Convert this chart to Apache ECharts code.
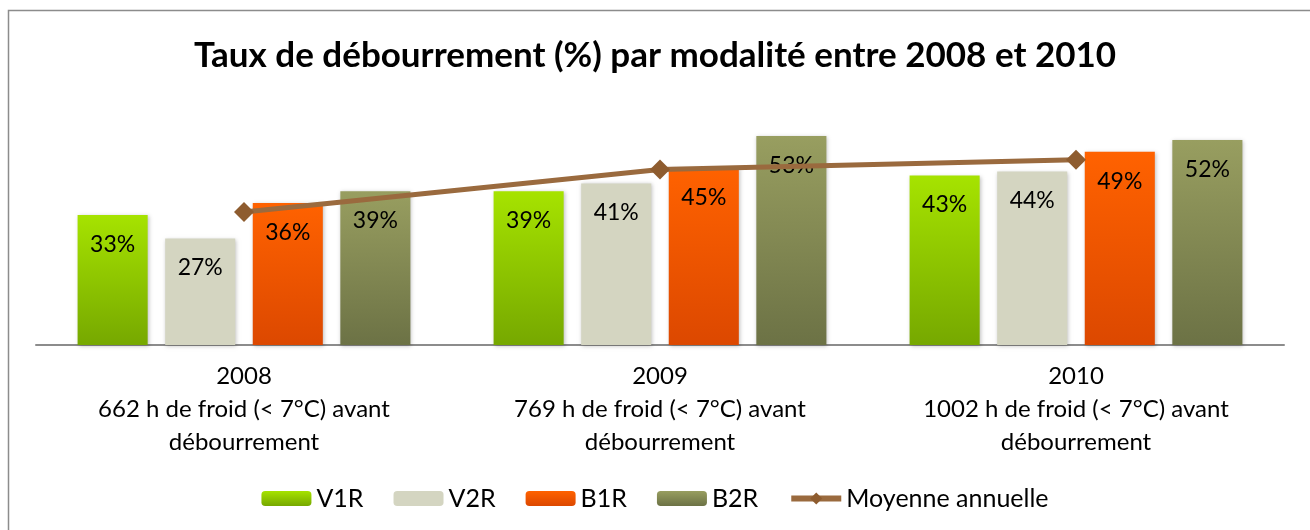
<!DOCTYPE html>
<html>
<head>
<meta charset="utf-8">
<script src="https://cdn.jsdelivr.net/npm/echarts@6/dist/echarts.min.js"></script>
<style>
  html, body { margin: 0; padding: 0; background: #fff; }
  #main { width: 1310px; height: 530px; }
</style>
</head>
<body>
<div id="main"></div>
<script>
// catégories (années + heures de froid)
var categories = [
  '2008\n662 h de froid (< 7°C) avant\ndébourrement',
  '2009\n769 h de froid (< 7°C) avant\ndébourrement',
  '2010\n1002 h de froid (< 7°C) avant\ndébourrement'
];
// taux de débourrement (%) par modalité
var v1r = [33, 39, 43];
var v2r = [27, 41, 44];
var b1r = [36, 45, 49];
var b2r = [39, 53, 52];
var moyenne = [33.75, 44.5, 47];

var font = 'Lato';

function grad(top, bottom) {
  return new echarts.graphic.LinearGradient(0, 0, 0, 1, [
    {offset: 0, color: top},
    {offset: 1, color: bottom}
  ]);
}

function barSerie(name, data, color) {
  return {
    name: name,
    type: 'bar',
    data: data,
    barGap: '25%',
    barCategoryGap: '20%',
    itemStyle: {
      color: color,
      shadowBlur: 4,
      shadowColor: 'rgba(0,0,0,0.25)',
      shadowOffsetX: 1,
      shadowOffsetY: 1
    },
    label: {
      show: true,
      position: 'insideTop',
      distance: 18,
      color: '#000',
      fontFamily: font,
      fontSize: 23,
      formatter: function (p) { return Math.round(p.value) + '%'; }
    }
  };
}

var chart = echarts.init(document.getElementById('main'));
var option = {
  backgroundColor: '#fff',
  animation: false,
  title: {
    text: 'Taux de débourrement (%) par modalité entre 2008 et 2010',
    left: 'center',
    top: 33,
    textStyle: {fontFamily: font, fontSize: 35, fontWeight: 'bold', color: '#000'}
  },
  graphic: [{
    type: 'rect',
    shape: {x: 8.5, y: 10.5, width: 1400, height: 600},
    style: {fill: 'none', stroke: '#8c8c8c', lineWidth: 1.5},
    silent: true
  }],
  legend: {
    bottom: 14,
    left: 'center',
    itemWidth: 50,
    itemHeight: 15,
    itemGap: 30,
    textStyle: {fontFamily: font, fontSize: 25, color: '#000'},
    data: ['V1R', 'V2R', 'B1R', 'B2R', {
      name: 'Moyenne annuelle',
      lineStyle: {width: 6, color: '#9a6a3e'},
      itemStyle: {color: '#8e5c2f'}
    }]
  },
  grid: {left: 36, right: 26, top: 108.5, bottom: 185},
  xAxis: {
    type: 'category',
    data: categories,
    axisLine: {lineStyle: {color: '#8c8c8c', width: 2}},
    axisTick: {show: false},
    axisLabel: {
      margin: 15,
      fontFamily: font,
      fontSize: 24,
      lineHeight: 33,
      color: '#000'
    }
  },
  yAxis: {
    type: 'value',
    min: 0,
    max: 60,
    show: false,
    splitLine: {show: false}
  },
  series: [
    barSerie('V1R', v1r, grad('#a6e300', '#76a800')),
    barSerie('V2R', v2r, '#d4d5c1'),
    barSerie('B1R', b1r, grad('#ff6200', '#dc4800')),
    barSerie('B2R', b2r, grad('#989e60', '#6c7245')),
    {
      name: 'Moyenne annuelle',
      type: 'line',
      data: moyenne,
      z: 5,
      symbol: 'diamond',
      symbolSize: 20,
      lineStyle: {color: '#9a6a3e', width: 5},
      itemStyle: {color: '#8e5c2f'}
    }
  ]
};
chart.setOption(option);
</script>
</body>
</html>
